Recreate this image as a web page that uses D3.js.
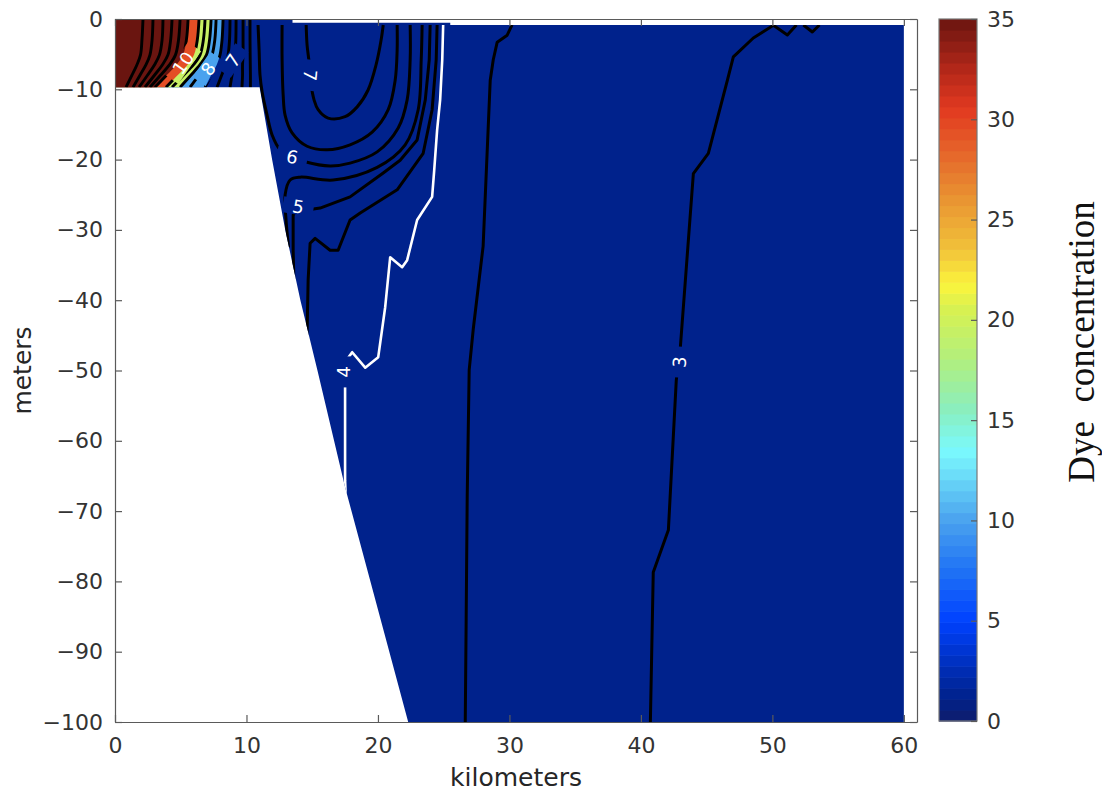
<!DOCTYPE html>
<html>
<head>
<meta charset="utf-8">
<script src="https://cdn.jsdelivr.net/npm/d3@7"></script>
<style>
  body { margin: 0; background: #fff; }
  svg { display: block; }
</style>
</head>
<body>
<svg id="chart" width="1102" height="799"></svg>
<script>
// ---------------- data ----------------
const xTickValues = [0, 10, 20, 30, 40, 50, 60];
const yTickValues = [0, -10, -20, -30, -40, -50, -60, -70, -80, -90, -100];
const cbTickValues = [0, 5, 10, 15, 20, 25, 30, 35];

// model grid: sea surface (km, m) and sea bed (km, m), right to left
const surface = [[0, 0], [13.5, 0], [13.5, -0.55], [25.5, -0.55], [25.5, -0.85], [60, -0.85]];
const seabed = [[60, -100], [22.3, -100], [17.5, -66.6], [15.4, -50], [14.1, -40],
                [12.95, -30], [11.95, -20], [11, -9.7], [0, -9.7]];

// colour map (value -> colour)
const cmapValues = [0, 1.2, 5, 7.5, 10, 12.5, 13.5, 15.5, 18, 20.5, 21.8, 23.5, 26, 28.5, 30.5, 32.5, 35];
const cmapColors = ['#101d6c', '#00228c', '#0041ff', '#1f72f5', '#4aa2ee', '#6fe2fa', '#7af9fd',
                    '#8aeebf', '#b1ef7e', '#d7f152', '#fbf43c', '#f1c23a', '#e99532', '#e5622a',
                    '#e23a20', '#b32719', '#6a1510'];

// filled-contour bands: background, then the near-source bands
const bandValues = [1.2, 10, 19.5, 29.5, 35];
const bandEdgeIndex = [10, 8, 6, 5];   // which near-source line bounds each band

// near-source contour lines: x (km) at shared depths
const srcDepth = [0, -3, -5.1, -6.5, -8, -9.7];
const srcLevels = [34, 33, 32, 31, 30, 28, 24, 20, 16, 12, 9, 8, 7, 6.6, 6.3];
const srcX = [
  [2.13, 2.05, 1.94, 1.67, 1.29, 0.84],
  [2.89, 2.82, 2.66, 2.36, 1.90, 1.37],
  [3.65, 3.58, 3.38, 3.01, 2.47, 1.83],
  [4.34, 4.23, 4.03, 3.61, 3.00, 2.28],
  [4.95, 4.83, 4.60, 4.15, 3.46, 2.66],
  [5.56, 5.43, 5.18, 4.68, 3.92, 3.04],
  [6.39, 6.26, 6.01, 5.52, 4.76, 3.88],
  [6.85, 6.72, 6.47, 5.97, 5.21, 4.34],
  [7.31, 7.19, 6.96, 6.47, 5.77, 4.95],
  [7.69, 7.59, 7.38, 7.00, 6.39, 5.71],
  [8.22, 8.14, 7.99, 7.74, 7.31, 6.85],
  [8.75, 8.71, 8.60, 8.41, 8.11, 7.76],
  [9.21, 9.19, 9.13, 9.06, 8.90, 8.75],
  [9.74, 9.74, 9.74, 9.70, 9.70, 9.66],
  [10.27, 10.27, 10.28, 10.29, 10.30, 10.30]
];

// plume contours (km, m)
const c7 = [[14.54, -0.85], [14.61, -3.7], [14.76, -6.1], [14.92, -9.4], [15.14, -11.5], [15.45, -12.9],
            [16.21, -14.1], [17.5, -13.9], [18.42, -12.5], [19.25, -10.1], [19.86, -6.5], [20.24, -3.0], [20.4, -0.85]];
const c65 = [[12.71, -0.85], [12.71, -5.8], [12.79, -10.8], [12.94, -13.7], [13.47, -16.2], [14.61, -18.1],
             [16.13, -18.6], [17.88, -17.9], [19.56, -16.1], [20.78, -12.9], [21.31, -8.7], [21.46, -4.4], [21.46, -0.85]];
const c6 = [[10.88, -0.85], [10.96, -4.4], [11.03, -8.0], [11.19, -10.4], [11.57, -13.7], [11.95, -16.5],
            [12.56, -18.6], [13.47, -19.6], [14.46, -20.3], [16.36, -20.9], [17.88, -20.5], [19.94, -18.9],
            [21.54, -15.5], [22.22, -11.5], [22.45, -5.8], [22.45, -0.85]];
const c55 = [[23.36, -0.85], [23.29, -5.8], [23.06, -12.9], [22.07, -17.9], [19.94, -21.1], [16.59, -22.9],
             [14.08, -22.5], [13.32, -22.9], [12.94, -25.0], [13.01, -28.6], [13.2, -32.5]];
const c5 = [[23.97, -0.85], [23.9, -5.8], [23.6, -11.5], [22.98, -17.2], [21.69, -20.1], [20.4, -21.9],
            [17.88, -25.3], [15.6, -26.9], [14.46, -27.2], [13.93, -26.7], [13.55, -27.9], [13.55, -32.9], [13.62, -38]];
const c45 = [[24.5, -0.85], [24.43, -5.8], [24.12, -12.9], [23.44, -19.1], [21.46, -24.3], [18.65, -27.6],
             [17.88, -28.6], [16.97, -32.9], [16.36, -32.9], [15.22, -31.2], [14.84, -31.9], [14.69, -37.1],
             [14.61, -44.7], [14.6, -47]];
const c4 = [[24.96, -0.85], [24.89, -5.8], [24.73, -11.5], [24.5, -15.8], [24.28, -21.5], [24.12, -25.3],
            [22.98, -28.6], [22.22, -34.3], [21.84, -35.3], [20.93, -33.9], [20.55, -41.0], [20.02, -48.1],
            [19.03, -49.6], [18.04, -47.4], [17.5, -48.8], [17.5, -52.1], [17.5, -65.6], [17.55, -68]];
const c3a = [[30.2, -0.85], [29.83, -2.3], [29.07, -3.3], [28.77, -5.8], [28.54, -8.7], [28.0, -32.3],
             [27.25, -44.1], [26.94, -49.9], [26.79, -67.7], [26.71, -85.3], [26.64, -100]];
const c3b = [[51.83, -0.85], [51.14, -2.28], [50.08, -0.9], [48.55, -2.7], [47.03, -5.4], [46.58, -8.7],
             [45.13, -19.1], [43.99, -22.0], [43.0, -46.7], [42.69, -51.4], [42.09, -72.7], [40.94, -78.7], [40.72, -100]];
const c3c = [[52.36, -0.85], [53.04, -1.85], [53.58, -0.85]];

const plumeLevels = [7, 6.5, 6, 5.5, 5, 4.5, 4, 3, 3, 3];
const plumeLines = [c7, c65, c6, c55, c5, c45, c4, c3a, c3b, c3c];

// contour labels: text and anchor (km, m)
const labelText = ['3', '4', '5', '6', '7', '10', '8', '7'];
const labelAt = [[42.92, -48.8], [17.35, -50.2], [13.93, -26.7], [13.47, -19.6], [14.84, -8.0],
                 [5.18, -6.26], [7.08, -7.1], [8.98, -5.9]];
const labelAngle = [-86, -90, 10, 12, 95, -55, -55, -55];

// ---------------- drawing ----------------
const W = 1102, H = 799;
const svg = d3.select('#chart');
const FONT = '"DejaVu Sans", sans-serif';

const x = d3.scaleLinear().domain([0, 61]).range([115, 917]);
const y = d3.scaleLinear().domain([-100, 0]).range([722, 19]);
const cmap = d3.scaleLinear().domain(cmapValues).range(cmapColors)
  .interpolate(d3.interpolateRgb).clamp(true);

const straight = d3.line().x(d => x(d[0])).y(d => y(d[1]));
const smooth = d3.line().x(d => x(d[0])).y(d => y(d[1])).curve(d3.curveCatmullRom.alpha(0.5));

const defs = svg.append('defs');
const seaOutline = surface.concat(seabed);
defs.append('clipPath').attr('id', 'sea')
  .append('path').attr('d', straight(seaOutline) + 'Z');

// label gaps in the contour lines
const gapMask = defs.append('mask').attr('id', 'labelGaps')
  .attr('maskUnits', 'userSpaceOnUse')
  .attr('x', 0).attr('y', 0).attr('width', W).attr('height', H);
gapMask.append('rect').attr('width', W).attr('height', H).attr('fill', '#fff');
labelText.forEach((t, i) => {
  const gap = 22 + 9 * t.length;
  gapMask.append('rect')
    .attr('x', -gap / 2).attr('y', -8).attr('width', gap).attr('height', 16)
    .attr('transform', `translate(${x(labelAt[i][0])},${y(labelAt[i][1])}) rotate(${labelAngle[i]})`)
    .attr('fill', '#000');
});

// background band over the whole section
svg.append('path').attr('d', straight(seaOutline) + 'Z').attr('fill', cmap(bandValues[0]));

// near-source bands
const bandG = svg.append('g').attr('clip-path', 'url(#sea)');
bandEdgeIndex.forEach((idx, i) => {
  const edge = srcDepth.map((m, j) => [srcX[idx][j], m]);
  const last = edge[edge.length - 1];
  const close = [[last[0], -12], [-1, -12], [-1, 1], [edge[0][0], 1]]
    .map(p => `L${x(p[0])},${y(p[1])}`).join('');
  bandG.append('path')
    .attr('d', smooth(edge) + close + 'Z')
    .attr('fill', cmap(bandValues[i + 1]));
});

// contour lines
const lineG = svg.append('g').attr('clip-path', 'url(#sea)')
  .append('g').attr('mask', 'url(#labelGaps)');
srcX.forEach((xs, i) => {
  lineG.append('path')
    .attr('d', smooth(srcDepth.map((m, j) => [xs[j], m])))
    .attr('fill', 'none').attr('stroke', '#000').attr('stroke-width', 2.9)
    .attr('stroke-linejoin', 'round');
});
plumeLines.forEach((pts, i) => {
  const lvl = plumeLevels[i];
  const gen = (lvl >= 5.5) ? smooth : straight;
  lineG.append('path')
    .attr('d', gen(pts))
    .attr('fill', 'none')
    .attr('stroke', lvl === 4 ? '#fff' : '#000')
    .attr('stroke-width', lvl === 4 ? 2.6 : 3)
    .attr('stroke-linejoin', 'round');
});

// contour labels
labelText.forEach((t, i) => {
  svg.append('text')
    .attr('transform', `translate(${x(labelAt[i][0])},${y(labelAt[i][1])}) rotate(${labelAngle[i]})`)
    .attr('text-anchor', 'middle').attr('dominant-baseline', 'central')
    .attr('font-family', FONT).attr('font-size', 18).attr('fill', '#fff')
    .text(t);
});

// axes
const axisColor = '#5a5a5a';
function styleAxis(g) {
  g.selectAll('.domain').attr('stroke', axisColor).attr('stroke-width', 1.2);
  g.selectAll('.tick line').attr('stroke', axisColor).attr('stroke-width', 1.2);
  g.selectAll('.tick text').attr('fill', '#333').attr('font-size', 22).attr('font-family', FONT);
}
svg.append('g').attr('transform', `translate(0,${y(-100)})`)
  .call(d3.axisBottom(x).tickValues(xTickValues).tickSize(-7).tickSizeOuter(0).tickPadding(15))
  .call(styleAxis);
svg.append('g').attr('transform', `translate(0,${y(0)})`)
  .call(d3.axisTop(x).tickValues(xTickValues).tickSize(-7).tickSizeOuter(0).tickFormat(''))
  .call(styleAxis);
svg.append('g').attr('transform', `translate(${x(0)},0)`)
  .call(d3.axisLeft(y).tickValues(yTickValues).tickSize(-7).tickSizeOuter(0).tickPadding(12))
  .call(styleAxis);
svg.append('g').attr('transform', `translate(${x(61)},0)`)
  .call(d3.axisRight(y).tickValues(yTickValues).tickSize(-7).tickSizeOuter(0).tickFormat(''))
  .call(styleAxis);

svg.append('text')
  .attr('x', (x(0) + x(61)) / 2).attr('y', 786)
  .attr('text-anchor', 'middle').attr('font-family', FONT).attr('font-size', 25).attr('fill', '#262626')
  .text('kilometers');
svg.append('text')
  .attr('transform', `translate(31,${(y(0) + y(-100)) / 2}) rotate(-90)`)
  .attr('text-anchor', 'middle').attr('font-family', FONT).attr('font-size', 25).attr('fill', '#262626')
  .text('meters');

// colour bar
const cbLeft = 939, cbRight = 977;
const cy = d3.scaleLinear().domain([0, 35]).range([721, 19]);
const steps = 64;
const cbG = svg.append('g');
d3.range(steps).forEach(i => {
  const v0 = 35 * i / steps, v1 = 35 * (i + 1) / steps;
  cbG.append('rect')
    .attr('x', cbLeft).attr('width', cbRight - cbLeft)
    .attr('y', cy(v1)).attr('height', cy(v0) - cy(v1) + 0.6)
    .attr('fill', cmap((v0 + v1) / 2));
});
cbG.append('rect').attr('x', cbLeft).attr('y', cy(35))
  .attr('width', cbRight - cbLeft).attr('height', cy(0) - cy(35))
  .attr('fill', 'none').attr('stroke', '#777').attr('stroke-width', 1.2);
svg.append('g').attr('transform', `translate(${cbRight},0)`)
  .call(d3.axisRight(cy).tickValues(cbTickValues).tickSize(-6).tickSizeOuter(0).tickPadding(10))
  .call(styleAxis)
  .call(g => g.select('.domain').remove());

svg.append('text')
  .attr('transform', `translate(1094,342) rotate(-90)`)
  .attr('text-anchor', 'middle')
  .attr('font-family', '"Liberation Serif", serif').attr('font-size', 37).attr('fill', '#111')
  .style('white-space', 'pre')
  .text('Dye  concentration');
</script>
</body>
</html>
